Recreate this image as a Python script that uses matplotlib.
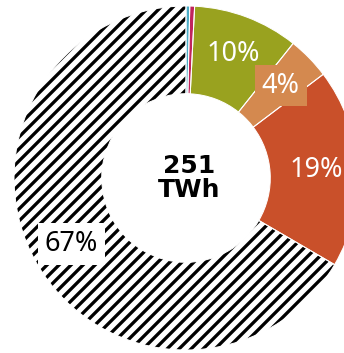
import numpy as np
import matplotlib
matplotlib.use("Agg")
import matplotlib.pyplot as plt

# slice shares, clockwise from 12 o'clock
shares = [0.35, 0.45, 9.9, 4.0, 18.7, 66.6]
colors = ["#4BACC6", "#C0245C", "#99A21F", "#D4894F", "#C9502A", "white"]
labels = ["", "", "10%", "4%", "19%", "67%"]
total_text = "251\nTWh"

plt.rcParams["hatch.linewidth"] = 3.3

fig = plt.figure(figsize=(344 / 72, 353 / 72), dpi=72)
ax = fig.add_axes([0, 0, 1, 1])

wedges, _ = ax.pie(shares, colors=colors, startangle=90, counterclock=False,
                   radius=1.0, wedgeprops=dict(width=0.51, linewidth=0))
wedges[-1].set_hatch("//")
wedges[-1].set_edgecolor("black")
wedges[-1].set_linewidth(0)

# white separators between the big slices
ax.pie(shares, colors=["none"] * len(shares), startangle=90, counterclock=False,
       radius=1.0, wedgeprops=dict(width=0.51, linewidth=1.0, edgecolor="white",
                                   fill=False))

for w, lab in zip(wedges, labels):
    if not lab:
        continue
    mid = np.deg2rad((w.theta1 + w.theta2) / 2)
    x, y = 0.77 * np.cos(mid), 0.77 * np.sin(mid)
    kw = dict(ha="center", va="center", fontsize=27, family="Noto Sans")
    if lab == "67%":
        ax.text(x, y, lab, color="black",
                bbox=dict(boxstyle="square,pad=0.25", fc="white", ec="none"), **kw)
    elif lab == "4%":
        ax.text(x, y, lab, color="white",
                bbox=dict(boxstyle="square,pad=0.25", fc=w.get_facecolor(), ec="none"), **kw)
    elif lab == "19%":
        ax.text(x - 0.01, y, lab, color="white", **kw)
    else:
        ax.text(x, y, lab, color="white", **kw)

ax.text(0.02, 0.0, total_text, ha="center", va="center", fontsize=25,
        fontweight="heavy", family="DejaVu Sans", linespacing=1.05)

# donut centre sits at (186, 178) px, radius 172 px; right side runs off the canvas
ax.set_aspect("auto")
ax.set_xlim(-186 / 172, (344 - 186) / 172)
ax.set_ylim((178 - 353) / 172, 178 / 172)
ax.axis("off")

fig.savefig("out.png", dpi=72)
